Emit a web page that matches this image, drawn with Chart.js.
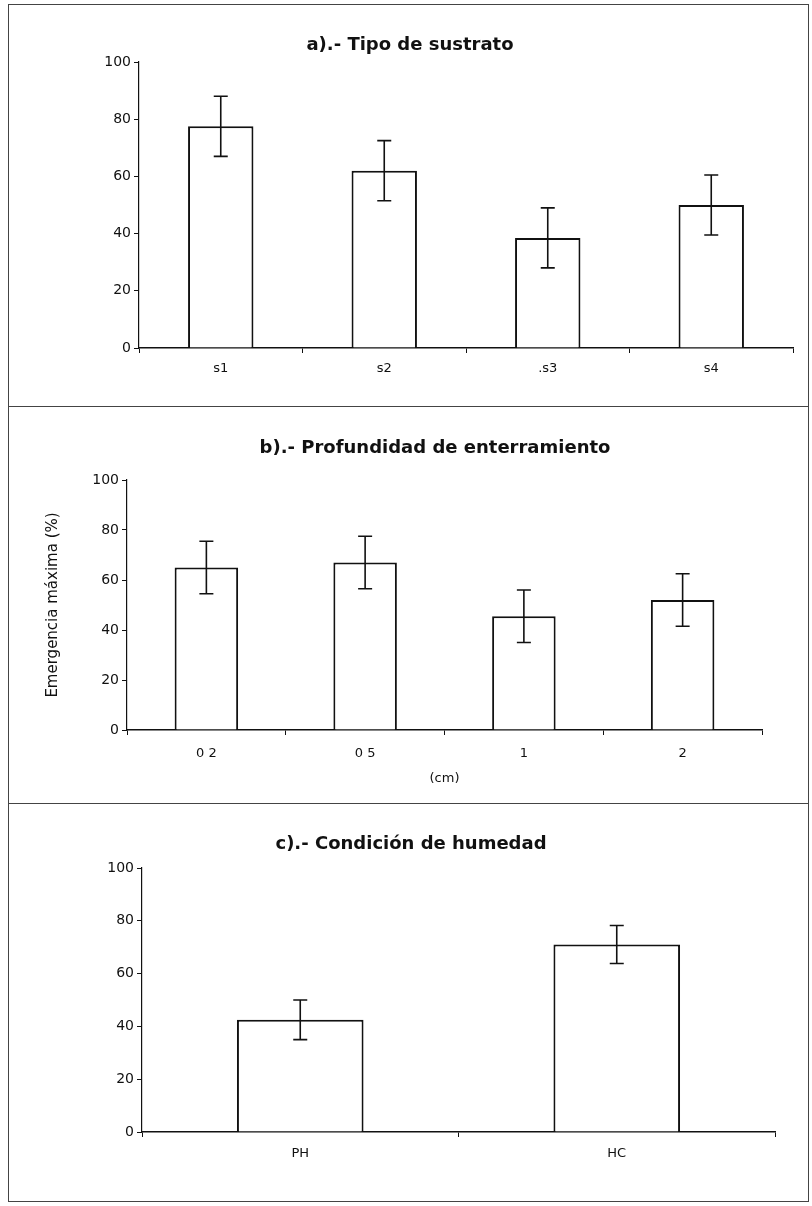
<!DOCTYPE html>
<html>
<head>
<meta charset="utf-8">
<script src="https://cdn.jsdelivr.net/npm/chart.js@4"></script>
<style>
  body { margin: 0; background: #fff; width: 812px; height: 1206px; position: relative; overflow: hidden; }
  .panel { position: absolute; }
  .frame { position: absolute; border: 1px solid #444; box-sizing: border-box; pointer-events: none; }
  .title { position: absolute; transform: translateX(-50%); white-space: nowrap;
           font-family: 'DejaVu Sans', sans-serif; font-size: 18px; font-weight: bold;
           line-height: 22px; color: #111; }
</style>
</head>
<body>
<div class="panel" style="left:0;top:5px;width:812px;height:400px;"><canvas id="chartA"></canvas></div>
<div class="panel" style="left:0;top:405px;width:812px;height:398px;"><canvas id="chartB"></canvas></div>
<div class="panel" style="left:0;top:803px;width:812px;height:399px;"><canvas id="chartC"></canvas></div>
<div class="frame" style="left:8px;top:4px;width:801px;height:403px;"></div>
<div class="frame" style="left:8px;top:406px;width:801px;height:398px;"></div>
<div class="frame" style="left:8px;top:803px;width:801px;height:399px;"></div>
<div class="title" style="left:410px;top:33px;">a).- Tipo de sustrato</div>
<div class="title" style="left:435px;top:436px;">b).- Profundidad de enterramiento</div>
<div class="title" style="left:411px;top:832px;">c).- Condición de humedad</div>
<script>
// a) tipo de sustrato
const sustratoLabels = ['s1', 's2', '.s3', 's4'];
const sustratoValues = [77.5, 62, 38.5, 50];
const sustratoErrors = [10.5, 10.5, 10.5, 10.5];

// b) profundidad de enterramiento (cm)
const profLabels = ['0 2', '0 5', '1', '2'];
const profValues = [65, 67, 45.5, 52];
const profErrors = [10.5, 10.5, 10.5, 10.5];

// c) condición de humedad
const humedadLabels = ['PH', 'HC'];
const humedadValues = [42.5, 71];
const humedadErrors = [7.5, 7.2];

const yTicks = [0, 20, 40, 60, 80, 100];

const FONT = 'DejaVu Sans';
const INK = '#111';

// barras de error con tope horizontal
const errorBars = {
    id: 'errorBars',
    afterDatasetsDraw(chart) {
        const ctx = chart.ctx;
        const yScale = chart.scales.y;
        chart.data.datasets.forEach((ds, i) => {
            const meta = chart.getDatasetMeta(i);
            meta.data.forEach((bar, j) => {
                const v = ds.data[j];
                const e = ds.errors[j];
                const top = yScale.getPixelForValue(v + e);
                const bot = yScale.getPixelForValue(v - e);
                ctx.save();
                ctx.strokeStyle = INK;
                ctx.lineWidth = 1.6;
                ctx.beginPath();
                ctx.moveTo(bar.x, top);
                ctx.lineTo(bar.x, bot);
                ctx.moveTo(bar.x - 7, top);
                ctx.lineTo(bar.x + 7, top);
                ctx.moveTo(bar.x - 7, bot);
                ctx.lineTo(bar.x + 7, bot);
                ctx.stroke();
                ctx.restore();
            });
        });
    }
};

function makePanel(id, labels, values, errors, geo) {
    const ctx = document.getElementById(id).getContext('2d');
    return new Chart(ctx, {
        type: 'bar',
        data: {
            labels: labels,
            datasets: [{
                data: values,
                errors: errors,
                backgroundColor: '#fff',
                borderColor: INK,
                borderWidth: 2,
                categoryPercentage: 1,
                barPercentage: 0.4
            }]
        },
        options: {
            responsive: true,
            maintainAspectRatio: false,
            animation: false,
            layout: { padding: { left: 0, right: geo.padRight, top: geo.padTop, bottom: 0 } },
            plugins: {
                legend: { display: false },
                tooltip: { enabled: false },
                title: { display: false }
            },
            scales: {
                x: {
                    grid: { display: true, drawOnChartArea: false, color: INK, tickLength: 5, offset: true },
                    border: { display: true, color: INK, width: 1.5 },
                    ticks: { color: INK, padding: geo.xPad, font: { family: FONT, size: 13 } },
                    title: geo.xTitle ? {
                        display: true, text: geo.xTitle, color: INK,
                        font: { family: FONT, size: 13 },
                        padding: { top: 0, bottom: geo.xTitlePad }
                    } : { display: false },
                    afterFit(scale) { scale.height = geo.xHeight; }
                },
                y: {
                    min: 0,
                    max: 100,
                    afterBuildTicks(scale) { scale.ticks = yTicks.map(v => ({ value: v })); },
                    grid: { display: true, drawOnChartArea: false, color: INK, tickLength: 5 },
                    border: { display: true, color: INK, width: 1.2 },
                    ticks: { color: INK, padding: 3, font: { family: FONT, size: 14 } },
                    title: geo.yTitle ? {
                        display: true, text: geo.yTitle, color: INK,
                        font: { family: FONT, size: 15 },
                        padding: { top: geo.yTitlePad, bottom: 0 }
                    } : { display: false },
                    afterFit(scale) { scale.width = geo.yWidth; }
                }
            }
        },
        plugins: [errorBars]
    });
}

makePanel('chartA', sustratoLabels, sustratoValues, sustratoErrors, {
    padRight: 19, padTop: 57, yWidth: 139, xHeight: 57, xPad: 8
});

makePanel('chartB', profLabels, profValues, profErrors, {
    padRight: 50, padTop: 75, yWidth: 127, xHeight: 73, xPad: 11,
    xTitle: '(cm)', xTitlePad: 17,
    yTitle: 'Emergencia máxima (%)', yTitlePad: 44
});

makePanel('chartC', humedadLabels, humedadValues, humedadErrors, {
    padRight: 37, padTop: 65, yWidth: 142, xHeight: 70, xPad: 9
});
</script>
</body>
</html>
